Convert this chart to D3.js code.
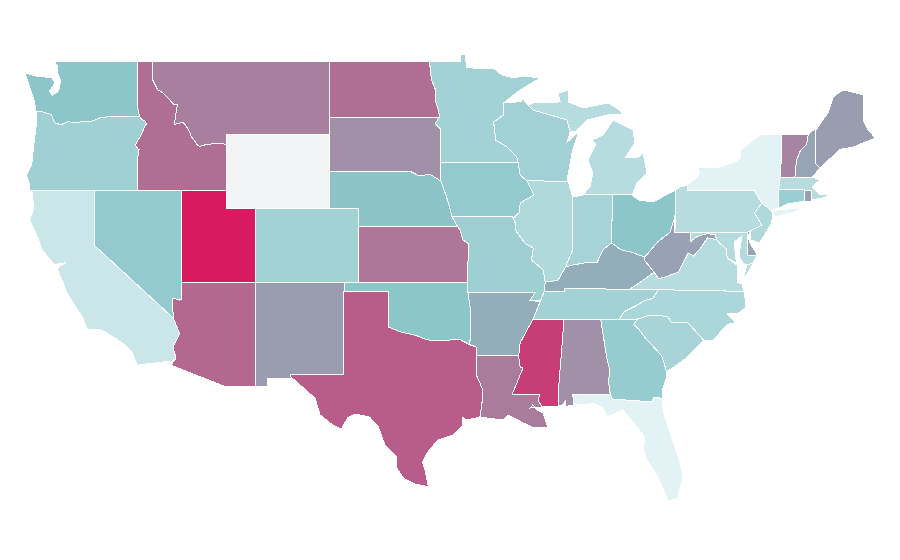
<!DOCTYPE html>
<html><head><meta charset="utf-8">
<script src="https://cdn.jsdelivr.net/npm/d3@7"></script>
<style>html,body{margin:0;padding:0;background:#fff}svg{display:block}</style>
</head><body><svg id="map" width="900" height="560"></svg>
<script>
// state values (null = no data)
const stateIds = ["WA","OR","CA","NV","ID","MT","WY","UT","AZ","CO","NM","ND","SD","NE","KS","OK","TX","MN","IA","MO","AR","LA","WI","IL","MI","IN","OH","KY","TN","MS","AL","GA","FL","SC","NC","VA","WV","PA","NY","MD","DE","NJ","CT","RI","MA","VT","NH","ME"];
const stateValues = [40,31,11,36,71,65,null,100,73,29,55,71,59,41,68,40,77,29,36,32,49,66,30,23,20,28,40,49,29,88,59,35,0,27,25,20,53,20,0,22,52,23,33,54,20,63,52,55];
const colorStops = [0,40,55,100];
const colorRange = ["#e3f2f4","#8bc6cb","#9a9cb0","#d81b60"];
const noDataColor = "#f2f3f5";

// state outlines as "lon,lat" lists
const shapes = {
WA:["-122.76,49 -117.03,49 -117.04,46.42 -116.92,46 -119,45.98 -119.6,45.92 -120.2,45.72 -120.65,45.74 -121.2,45.65 -121.8,45.7 -122.25,45.55 -122.65,45.62 -122.8,45.85 -122.9,46.1 -123.16,46.15 -123.43,46.23 -123.95,46.25 -124.1,46.9 -124.7,48.35 -123.9,48.17 -122.9,48.1 -122.65,47.85 -123.05,47.35 -122.85,47.15 -122.5,47.3 -122.35,47.6 -122.3,47.95 -122.5,48.4 -122.5,48.75"],
OR:["-124.4,42 -124.4,42.3 -124.6,42.8 -124.25,43.4 -124.1,44.5 -123.95,45.5 -123.95,46.25 -123.43,46.23 -123.16,46.15 -122.9,46.1 -122.8,45.85 -122.65,45.62 -122.25,45.55 -121.8,45.7 -121.2,45.65 -120.65,45.74 -120.2,45.72 -119.6,45.92 -119,45.98 -116.92,46 -116.78,45.82 -116.55,45.75 -116.46,45.6 -116.68,45.25 -116.85,44.95 -117.2,44.45 -117.05,44.23 -116.95,44.2 -117.03,43.83 -117.03,42"],
CA:["-124.25,42 -120,42 -120,39 -114.63,35.05 -114.2,34.2 -114.65,33.48 -114.45,32.88 -114.72,32.72 -117.1,32.5 -117.4,33.16 -118.1,33.7 -118.6,33.97 -119.5,34.4 -120.5,34.46 -120.8,35.1 -121.3,35.7 -121.9,36.47 -122.1,36.95 -122.5,37.66 -122.4,37.85 -121.9,38.05 -122.45,38 -122.7,37.95 -123.55,38.74 -123.85,39.45 -124.4,40.37 -124.1,41"],
NV:["-120,42 -114.05,42 -114.05,36.1 -114.2,36.03 -114.7,36.14 -114.63,35.05 -120,39"],
ID:["-117.03,49 -116.05,49 -116.05,48 -115.7,47.45 -115.3,47.25 -114.95,46.95 -114.6,46.65 -114.35,46.65 -114.48,46 -114.55,45.56 -114,45.68 -113.8,45.52 -113.45,45.05 -113.45,44.95 -113,44.45 -112.85,44.36 -112.39,44.47 -111.5,44.55 -111.05,44.47 -111.05,42 -117.03,42 -117.03,43.83 -116.95,44.2 -117.05,44.23 -117.2,44.45 -116.85,44.95 -116.68,45.25 -116.46,45.6 -116.55,45.75 -116.78,45.82 -116.92,46 -117.04,46.42"],
MT:["-116.05,49 -104.05,49 -104.05,45 -111.05,45 -111.05,44.47 -111.5,44.55 -112.39,44.47 -112.85,44.36 -113,44.45 -113.45,44.95 -113.45,45.05 -113.8,45.52 -114,45.68 -114.55,45.56 -114.48,46 -114.35,46.65 -114.6,46.65 -114.95,46.95 -115.3,47.25 -115.7,47.45 -116.05,48"],
WY:["-111.05,45 -104.05,45 -104.05,41 -111.05,41"],
UT:["-114.05,42 -111.05,42 -111.05,41 -109.05,41 -109.05,37 -114.05,37"],
AZ:["-114.05,37 -109.05,37 -109.05,31.33 -111.1,31.33 -114.8,32.5 -114.45,32.88 -114.65,33.48 -114.2,34.2 -114.63,35.05 -114.7,36.14 -114.2,36.03 -114.05,36.1"],
CO:["-109.05,41 -102.05,41 -102.05,37 -109.05,37"],
NM:["-109.05,37 -103,37 -103.06,32 -106.62,32 -106.53,31.78 -108.2,31.78 -108.2,31.33 -109.05,31.33"],
ND:["-104.05,49 -97.23,49 -97.1,48 -96.85,47.5 -96.85,46.9 -96.6,46.3 -96.56,45.94 -104.05,45.94"],
SD:["-104.05,45.94 -96.56,45.94 -96.85,45.6 -96.45,45.3 -96.45,43.5 -96.5,43 -96.45,42.49 -97.2,42.85 -97.95,42.77 -98.5,43 -104.05,43"],
NE:["-104.05,43 -98.5,43 -97.95,42.77 -97.2,42.85 -96.45,42.49 -96.1,41.7 -95.9,41.2 -95.7,40.56 -95.31,40 -102.05,40 -102.05,41 -104.05,41"],
KS:["-102.05,40 -95.31,40 -95.15,39.83 -94.95,39.29 -94.6,39.1 -94.62,37 -102.05,37"],
OK:["-103,37 -94.62,37 -94.62,36.5 -94.43,35.4 -94.48,33.6 -95.2,33.9 -96,33.85 -96.6,33.85 -97.2,33.85 -97.7,33.95 -98.1,34.1 -99.2,34.3 -100,34.56 -100,36.5 -103,36.5"],
TX:["-103.04,36.5 -100,36.5 -100,34.56 -99.2,34.3 -98.1,34.1 -97.7,33.95 -97.2,33.85 -96.6,33.85 -96,33.85 -95.2,33.9 -94.48,33.6 -94.04,33.48 -94.04,33.02 -94.04,31.96 -93.6,31.15 -93.66,30.45 -93.8,29.68 -94.7,29.52 -95,29.68 -94.95,29.25 -95.6,28.7 -96.65,28.44 -97.4,27.73 -97.7,27.24 -97.5,26.7 -97.3,25.9 -98.2,26.05 -99,26.37 -99.45,26.9 -99.45,27.5 -100.25,28.16 -100.7,29.14 -101.3,29.68 -102.3,29.85 -102.8,29.63 -103.2,29.03 -103.8,29.25 -104.66,29.8 -105,30.7 -106.7,31.9 -106.62,32 -103.06,32"],
MN:["-97.23,49 -95.1,49 -95.1,49.33 -94.8,49.33 -94.7,48.67 -93.8,48.57 -92.9,48.62 -92.3,48.24 -91.5,48.08 -90.85,48.19 -89.7,48.08 -91.07,47.43 -92.2,46.72 -92.2,46.07 -92.87,45.69 -92.73,44.71 -91.95,44.33 -91.3,43.79 -91.2,43.5 -96.45,43.5 -96.45,45.3 -96.85,45.6 -96.56,45.94 -96.6,46.3 -96.85,46.9 -96.85,47.5 -97.1,48"],
IA:["-96.45,43.5 -91.2,43.5 -91.07,42.81 -90.6,42.5 -90.13,41.73 -91.07,41.3 -91.1,40.8 -91.53,40.48 -91.6,40.56 -95.7,40.56 -95.9,41.2 -96.1,41.7 -96.45,42.49 -96.5,43"],
MO:["-95.7,40.56 -91.6,40.56 -91.53,40.48 -91.4,40.2 -91.4,39.83 -90.73,39.1 -90.17,38.85 -90.3,38.2 -89.5,37.66 -89.37,37 -89.42,36.5 -89.7,36 -90.4,36 -90.05,36.45 -94.62,36.45 -94.62,37 -94.6,39.1 -94.95,39.29 -95.15,39.83 -95.31,40"],
AR:["-94.62,36.45 -90.05,36.45 -90.4,36 -89.7,35.95 -90.2,34.98 -90.6,34.4 -91.07,33.7 -91.17,33 -94.04,33.02 -94.04,33.48 -94.48,33.6 -94.43,35.4"],
LA:["-94.04,33.02 -91.17,33 -91.07,32.4 -90.87,32.34 -91.6,30.93 -89.72,30.93 -89.85,30.6 -89.58,30.23 -90.4,30.17 -90.2,30.35 -89.9,30.05 -89.5,29.9 -89.18,29.09 -90.26,29.14 -90.87,29.36 -91.9,29.8 -92.23,29.52 -93.8,29.68 -93.66,30.45 -93.6,31.15 -94.04,31.96"],
WI:["-92.2,46.72 -91,46.8 -90.9,46.95 -90.5,46.6 -90.2,46.34 -87.88,45.8 -87.67,45.15 -87.88,44.6 -87.1,45.15 -87.5,44.17 -87.88,42.54 -87.8,42.47 -90.6,42.5 -91.07,42.81 -91.2,43.5 -91.3,43.79 -91.95,44.33 -92.73,44.71 -92.87,45.69 -92.2,46.07"],
IL:["-90.6,42.5 -87.8,42.47 -87.5,41.62 -87.5,38.75 -88,37.8 -88.5,37.1 -89.37,37 -89.5,37.66 -90.3,38.2 -90.17,38.85 -90.73,39.1 -91.4,39.83 -91.4,40.2 -91.53,40.48 -91.1,40.8 -91.07,41.3 -90.13,41.73"],
MI:["-86.82,41.73 -84.8,41.73 -83.45,41.73 -83.13,42.38 -82.45,42.92 -82.72,44 -83.13,43.74 -83.95,43.74 -83.27,44.55 -83.4,45.26 -84.76,45.8 -84.97,45.53 -85.44,44.98 -86.2,44.71 -85.9,44.5 -86.47,43.63 -86.13,42.92 -86.33,42.16","-90.2,46.34 -90.5,46.6 -90.2,46.72 -88.35,46.78 -88.49,47.26 -87.8,47.43 -87.8,46.78 -86.79,46.45 -85.1,46.72 -84.3,46.34 -84.1,46.07 -85.17,46.07 -86.52,45.8 -87.34,45.15 -87.67,45.15 -87.88,45.8"],
IN:["-87.5,41.62 -86.82,41.73 -84.8,41.73 -84.85,39.13 -85.45,38.75 -85.85,38.05 -86.5,38.07 -87.7,37.9 -88,37.8 -87.5,38.75"],
OH:["-84.8,41.73 -83.45,41.73 -83.05,41.46 -82.05,41.35 -80.5,42 -80.55,40.54 -80.9,39.7 -81.7,39.2 -82.6,38.36 -83.5,38.63 -84.2,38.75 -84.85,39.13"],
KY:["-89.42,36.5 -88.07,36.5 -88.07,36.68 -83.67,36.6 -82.9,37 -81.97,37.54 -82.6,38.17 -82.6,38.36 -83.5,38.63 -84.2,38.75 -84.85,39.13 -85.45,38.75 -85.85,38.05 -86.5,38.07 -87.7,37.9 -88,37.8 -88.5,37.1 -89.37,37"],
TN:["-90.2,34.98 -88.15,34.98 -85.6,35 -84.32,35 -84,35.4 -83.2,35.72 -82.6,36 -82.05,36.12 -81.68,36.59 -83.67,36.6 -88.07,36.68 -88.07,36.5 -89.42,36.5 -89.7,35.95"],
MS:["-90.2,34.98 -88.15,34.98 -88.1,34.84 -88.43,31.5 -88.43,30.28 -89.58,30.23 -89.85,30.6 -89.72,30.93 -91.6,30.93 -90.87,32.34 -91.07,32.4 -91.17,33 -91.07,33.7 -90.6,34.4"],
AL:["-88.15,34.98 -85.6,35 -85.18,32.87 -85,32.3 -85.05,31.55 -84.95,30.93 -87.5,30.93 -87.4,30.34 -88,30.25 -88,30.6 -88.15,30.35 -88.43,30.28 -88.43,31.5 -88.1,34.84"],
GA:["-85.6,35 -83.1,35 -83.35,34.7 -83,34.45 -82.55,33.95 -81.9,33.4 -81.45,33 -81.1,32.1 -81.1,31.85 -81.4,31.15 -81.4,30.7 -82,30.75 -82.1,30.5 -84.8,30.66 -84.95,30.93 -85.05,31.55 -85,32.3 -85.18,32.87"],
FL:["-87.5,30.93 -84.95,30.93 -84.8,30.66 -82.1,30.5 -82,30.75 -81.4,30.7 -81.35,30 -81,29.14 -80.2,27.2 -80,26.4 -80.35,25.3 -81,25.1 -81.7,26.4 -82.45,27.35 -82.7,27.9 -82.6,28.6 -83.4,29.4 -84.1,30.06 -85.15,29.68 -85.45,30.2 -86.1,30.4 -87.4,30.34"],
SC:["-83.1,35 -82.3,35.2 -81.05,35.15 -80.8,34.82 -79.67,34.8 -78.6,33.85 -79.75,32.9 -80.7,32.35 -81,32.2 -81.1,32.1 -81.45,33 -81.9,33.4 -82.55,33.95 -83,34.45 -83.35,34.7"],
NC:["-84.32,35 -83.1,35 -82.3,35.2 -81.05,35.15 -80.8,34.82 -79.67,34.8 -78.6,33.85 -77.95,33.85 -77,34.7 -76.45,34.8 -77,35.3 -76.3,35.3 -75.75,35.6 -75.75,35.9 -75.85,36.5 -81.68,36.59 -82.05,36.12 -82.6,36 -83.2,35.72 -84,35.4"],
VA:["-83.67,36.6 -81.68,36.59 -75.85,36.5 -76,36.9 -76.3,37 -76.3,37.9 -77,38.3 -77.05,38.8 -77.5,39.1 -77.72,39.32 -78.35,39.4 -78.87,38.77 -79.3,38.42 -79.65,38.58 -80.3,37.55 -81.25,37.27 -81.68,37.2 -81.97,37.54 -82.9,37","-75.95,37.15 -75.65,37.95 -75.25,38.03 -75.6,37.5"],
WV:["-80.55,40.54 -80.55,39.72 -79.48,39.72 -79.48,39.2 -79.05,39.48 -78.4,39.62 -77.83,39.6 -77.72,39.32 -78.35,39.4 -78.87,38.77 -79.3,38.42 -79.65,38.58 -80.3,37.55 -81.25,37.27 -81.68,37.2 -81.97,37.54 -82.6,38.17 -82.6,38.36 -81.7,39.2 -80.9,39.7"],
PA:["-80.5,42 -80.2,42.16 -79.73,42.27 -79.73,42 -75.2,42 -74.65,41.3 -75.15,40.75 -74.65,40.1 -75.4,39.8 -75.6,39.72 -80.55,39.72"],
NY:["-79.73,42.27 -79.05,42.7 -78.9,42.9 -79,43.2 -77.5,43.25 -76.5,43.5 -76.1,43.74 -76.1,44.15 -75,44.88 -74.7,45 -73.33,45 -73.33,43.63 -73.4,42.7 -73.5,42.05 -73.5,41.02 -73.9,40.9 -74,40.7 -74.65,41.3 -75.2,42 -79.73,42","-73.9,40.6 -74.1,40.75 -73.4,40.95 -71.9,41 -72.5,40.8 -73.6,40.58"],
MD:["-79.48,39.72 -75.6,39.72 -75.6,38.47 -74.95,38.47 -75.25,38.03 -75.65,37.95 -75.9,38 -76.2,38.4 -76,39.5 -76.5,39.2 -76.45,38.4 -76.35,38.05 -77,38.3 -77.05,38.8 -77.5,39.1 -77.72,39.32 -77.83,39.6 -78.4,39.62 -79.05,39.48 -79.48,39.2"],
DE:["-75.6,39.72 -75.4,39.8 -75.6,39.45 -75.4,39.05 -74.95,38.47 -75.6,38.47"],
NJ:["-74.65,41.3 -73.9,40.8 -73.98,40.2 -74.8,39.13 -75.45,39.3 -75.4,39.8 -74.65,40.1 -75.15,40.75"],
CT:["-73.5,42.05 -71.75,42 -71.75,41.4 -72.9,41.25 -73.5,41.02"],
RI:["-71.75,42 -71.3,42 -71.3,41.4 -71.75,41.4"],
MA:["-73.5,42.05 -73.4,42.7 -72.4,42.7 -71.2,42.7 -70.7,42.54 -71.25,42.16 -70.7,41.73 -70.05,41.73 -70.5,41.57 -71.3,41.45 -71.3,42 -71.75,42"],
VT:["-73.4,42.7 -72.4,42.7 -72.3,43.6 -72.05,44.1 -71.6,44.5 -71.5,45 -73.33,45 -73.33,43.63"],
NH:["-72.4,42.7 -71.2,42.7 -70.7,43.2 -70.97,43.4 -70.97,45.26 -71.2,45.25 -71.5,45 -71.6,44.5 -72.05,44.1 -72.3,43.6"],
ME:["-70.97,45.26 -70.97,43.4 -70.7,43.2 -69.33,44.2 -68.45,44.33 -66.95,44.82 -67.45,45.3 -67.77,45.8 -67.77,47.16 -68.2,47.26 -69.13,47.43 -69.8,47.05 -70.13,46.23"]
};

const width = 900, height = 560;
const x = d3.scaleLinear().domain([-124, -68]).range([35.4, 859.7]);
const y = d3.scaleLinear().domain([49, 25]).range([61, 503.3]);
const color = d3.scaleLinear().domain(colorStops).range(colorRange);
const path = d3.geoPath(d3.geoTransform({point(lon, lat){ this.stream.point(x(lon), y(lat)); }}));

const parseRing = s => s.trim().split(/\s+/).map(p => p.split(",").map(Number));
const features = stateIds.map((id, i) => ({
  type: "Feature", id, properties: {value: stateValues[i]},
  geometry: {type: "MultiPolygon", coordinates: shapes[id].map(s => { const r = parseRing(s); return [[...r, r[0]]]; })}
}));

d3.select("#map").selectAll("path").data(features).join("path")
  .attr("d", path)
  .attr("fill", d => d.properties.value == null ? noDataColor : color(d.properties.value))
  .attr("stroke", "#fff").attr("stroke-width", 1)
  .attr("shape-rendering", "crispEdges");
</script></body></html>
